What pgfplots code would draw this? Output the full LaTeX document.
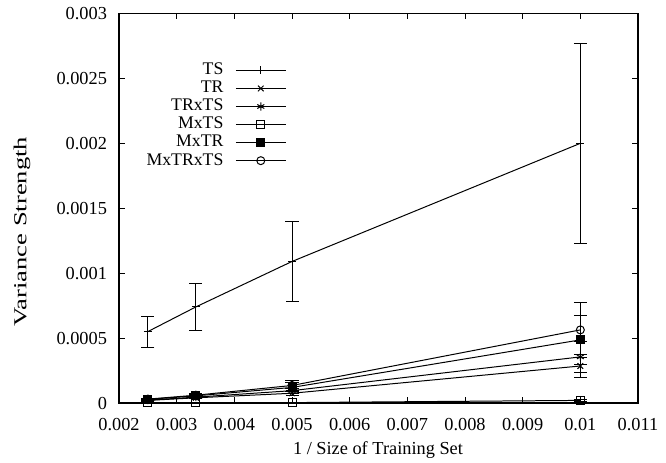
\documentclass[border=0pt]{standalone}
\usepackage{fontspec}
\setmainfont{Liberation Serif}
\usepackage{graphicx}
\usepackage{pgfplots}
\pgfplotsset{compat=1.18}
\begin{document}
\begin{tikzpicture}
\begin{axis}[
    scale only axis,
    width=259.5bp, height=194.75bp,
    xmin=0.002, xmax=0.011,
    ymin=0, ymax=0.003,
    xtick={0.002,0.003,...,0.011},
    ytick={0,0.0005,0.001,0.0015,0.002,0.0025,0.003},
    scaled ticks=false,
    xticklabel style={yshift=-4bp, /pgf/number format/.cd, fixed, precision=3, assume math mode=true},
    yticklabel style={xshift=-2.5bp, /pgf/number format/.cd, fixed, precision=4, assume math mode=true},
    tick align=inside,
    major tick length=3bp,
    tick style={black, line width=0.5pt},
    axis line style={line width=0.9pt},
    font=\fontsize{9.2}{11}\selectfont,
    xlabel={1 / Size of Training Set},
    ylabel={\scalebox{1.45}[1]{Variance Strength}},
    xlabel style={at={(axis description cs:0.499,-0.131)}, anchor=base},
    ylabel style={at={(axis description cs:-0.187,0.44)}, anchor=center},
    legend cell align=right,
    legend plot pos=right,
    legend style={draw=none, fill=none, inner sep=0pt, at={(0.323,0.884)}, anchor=north east,
        row sep=-2.3bp, font=\fontsize{8.9}{10}\selectfont},
    legend image code/.code={\path (0cm,0cm); \draw[mark repeat=2,mark phase=2,#1] plot coordinates {(0.14cm,0cm)(0.58cm,0cm)(1.02cm,0cm)};},
    every axis plot/.append style={black, line width=0.5pt, mark size=2bp,
        error bars/y dir=both, error bars/y explicit,
        error bars/error mark options={rotate=90, mark size=3.25bp, line width=0.5pt},
        error bars/error bar style={line width=0.5pt}},
]
\addplot[mark=+] coordinates {
 (0.0025, 0.00055) +- (0, 0.00012)
 (0.003333, 0.00074) +- (0, 0.00018)
 (0.005, 0.00109) +- (0, 0.00031)
 (0.01, 0.00200) +- (0, 0.00077)
};
\addplot[mark=x] coordinates {
 (0.0025, 0.000020) +- (0, 0.000005)
 (0.003333, 0.000040) +- (0, 0.000008)
 (0.005, 0.000075) +- (0, 0.000015)
 (0.01, 0.000285) +- (0, 0.00009)
};
\addplot[mark=asterisk] coordinates {
 (0.0025, 0.000022) +- (0, 0.000005)
 (0.003333, 0.000045) +- (0, 0.00001)
 (0.005, 0.000095) +- (0, 0.00002)
 (0.01, 0.000355) +- (0, 0.00012)
};
\addplot[mark=square] coordinates {
 (0.0025, 0.0000005) +- (0, 0.0000002)
 (0.003333, 0.000001) +- (0, 0.0000003)
 (0.005, 0.000003) +- (0, 0.000001)
 (0.01, 0.00002) +- (0, 0.000006)
};
\addplot[mark=square*] coordinates {
 (0.0025, 0.000028) +- (0, 0.000006)
 (0.003333, 0.000055) +- (0, 0.000012)
 (0.005, 0.00012) +- (0, 0.000035)
 (0.01, 0.000486) +- (0, 0.00019)
};
\addplot[mark=o] coordinates {
 (0.0025, 0.000030) +- (0, 0.000007)
 (0.003333, 0.000060) +- (0, 0.000014)
 (0.005, 0.000135) +- (0, 0.00004)
 (0.01, 0.000563) +- (0, 0.00021)
};
\legend{TS,TR,TRxTS,MxTS,MxTR,MxTRxTS}
\end{axis}
\pgfresetboundingbox
\path[use as bounding box] ([xshift=-59.5bp,yshift=-30bp]current axis.south west) rectangle ([xshift=14bp,yshift=6.75bp]current axis.north east);
\end{tikzpicture}
\end{document}
